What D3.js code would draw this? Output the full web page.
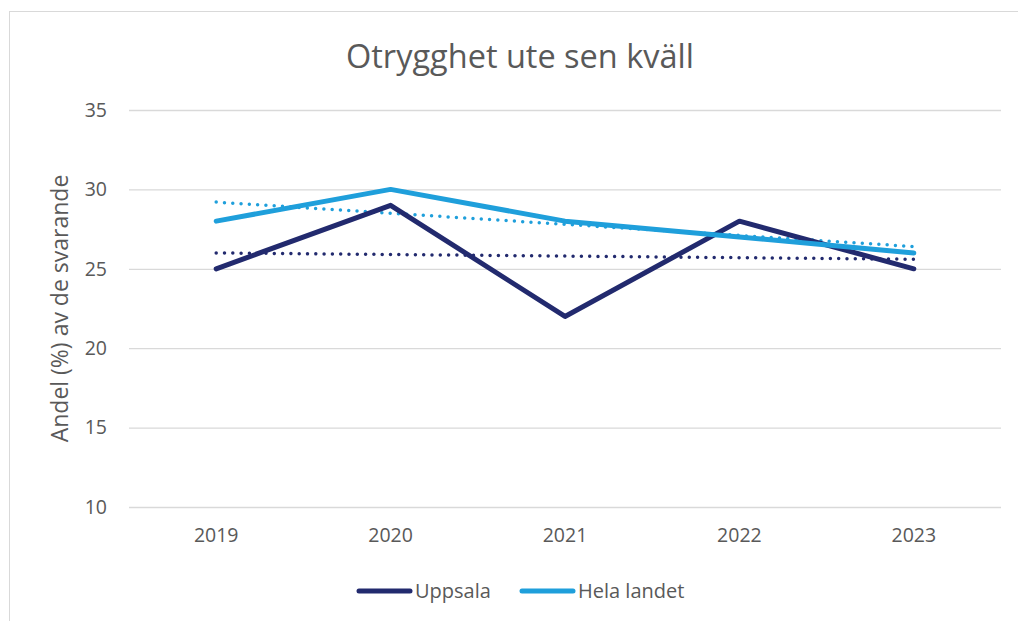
<!DOCTYPE html>
<html>
<head>
<meta charset="utf-8">
<script src="https://cdn.jsdelivr.net/npm/d3@7"></script>
<style>
  body { margin: 0; background: #fff; }
  text { font-family: "Open Sans", "Noto Sans", sans-serif; fill: #595959; }
</style>
</head>
<body>
<div id="chart"></div>
<script>
var years = ["2019", "2020", "2021", "2022", "2023"];
var uppsala = [25, 29, 22, 28, 25];
var helaLandet = [28, 30, 28, 27, 26];
// trend lines (start, end)
var uppsalaTrend = [26.0, 25.6];
var helaTrend = [29.2, 26.4];
var yTicks = [10, 15, 20, 25, 30, 35];

var svgWidth = 1018;
var svgHeight = 621;

var margin = { top: 110, right: 17, bottom: 114, left: 129 };
var width = svgWidth - margin.left - margin.right;
var height = svgHeight - margin.top - margin.bottom;

var svg = d3.select("#chart")
  .append("svg")
  .attr("width", svgWidth)
  .attr("height", svgHeight);

// outer frame
svg.append("rect")
  .attr("x", 9.5).attr("y", 11.5)
  .attr("width", 1020).attr("height", 620)
  .attr("fill", "none")
  .attr("stroke", "#d9d9d9");

var chartGroup = svg.append("g")
  .attr("transform", `translate(${margin.left}, ${margin.top})`);

var xScale = d3.scaleBand()
  .domain(years)
  .range([0, width])
  .padding(0);

var yScale = d3.scaleLinear()
  .domain([10, 35])
  .range([height, 0]);

var xc = d => xScale(d) + xScale.bandwidth() / 2;

// gridlines + y labels
var yAxis = d3.axisLeft(yScale)
  .tickValues(yTicks)
  .tickSize(-width)
  .tickPadding(22);

var yg = chartGroup.append("g").call(yAxis);
yg.select(".domain").remove();
yg.selectAll(".tick line").attr("stroke", "#d9d9d9").attr("stroke-width", 1.3);
yg.selectAll(".tick text")
  .style("font-size", "19.5px")
  .attr("fill", "#595959");

// x labels
var xAxis = d3.axisBottom(xScale).tickSize(0).tickPadding(21);
var xg = chartGroup.append("g")
  .attr("transform", `translate(0,${height})`)
  .call(xAxis);
xg.select(".domain").remove();
xg.selectAll(".tick text")
  .style("font-size", "19.5px")
  .attr("fill", "#595959");

// trend lines
var trendLine = d3.line()
  .x(d => d.x)
  .y(d => yScale(d.y));

function trendPts(tr) {
  return [{ x: xc(years[0]), y: tr[0] }, { x: xc(years[years.length - 1]), y: tr[1] }];
}

chartGroup.append("path")
  .datum(trendPts(uppsalaTrend))
  .attr("d", trendLine)
  .attr("fill", "none")
  .attr("stroke", "#222a6e")
  .attr("stroke-width", 3.5)
  .attr("stroke-linecap", "round")
  .attr("stroke-dasharray", "0 8.3");

chartGroup.append("path")
  .datum(trendPts(helaTrend))
  .attr("d", trendLine)
  .attr("fill", "none")
  .attr("stroke", "#1f9fdb")
  .attr("stroke-width", 3.5)
  .attr("stroke-linecap", "round")
  .attr("stroke-dasharray", "0 8.3");

// data lines
var line = d3.line()
  .x((d, i) => xc(years[i]))
  .y(d => yScale(d));

chartGroup.append("path")
  .datum(uppsala)
  .attr("d", line)
  .attr("fill", "none")
  .attr("stroke", "#222a6e")
  .attr("stroke-width", 5)
  .attr("stroke-linecap", "round")
  .attr("stroke-linejoin", "round");

chartGroup.append("path")
  .datum(helaLandet)
  .attr("d", line)
  .attr("fill", "none")
  .attr("stroke", "#1f9fdb")
  .attr("stroke-width", 5)
  .attr("stroke-linecap", "round")
  .attr("stroke-linejoin", "round");

// title
svg.append("text")
  .attr("x", 520)
  .attr("y", 68)
  .attr("text-anchor", "middle")
  .style("font-size", "32.5px")
  .text("Otrygghet ute sen kväll");

// y axis title
svg.append("text")
  .attr("transform", `translate(68, ${margin.top + height / 2}) rotate(-90)`)
  .attr("text-anchor", "middle")
  .style("font-size", "23px")
  .text("Andel (%) av de svarande");

// legend
var legend = [
  { name: "Uppsala", color: "#222a6e", x: 357 },
  { name: "Hela landet", color: "#1f9fdb", x: 520 }
];
var lg = svg.selectAll(".legend")
  .data(legend)
  .enter()
  .append("g")
  .attr("transform", d => `translate(${d.x}, 591)`);
lg.append("line")
  .attr("x1", 2).attr("x2", 53)
  .attr("stroke", d => d.color)
  .attr("stroke-width", 5)
  .attr("stroke-linecap", "round");
lg.append("text")
  .attr("x", 58)
  .attr("dy", "0.35em")
  .style("font-size", "20px")
  .text(d => d.name);
</script>
</body>
</html>
